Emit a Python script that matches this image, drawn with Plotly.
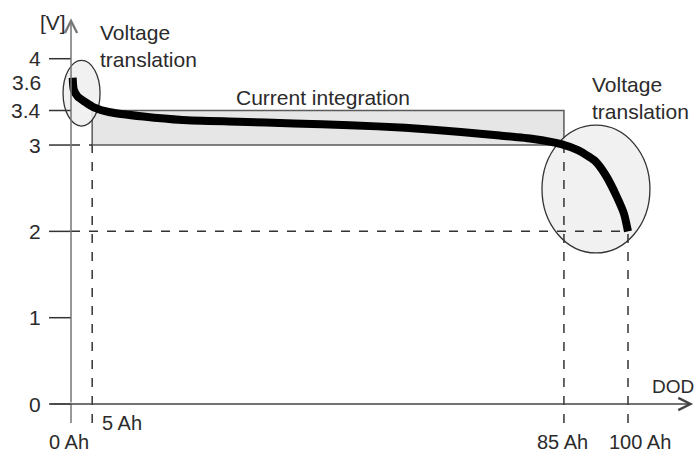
import plotly.graph_objects as go

# Discharge curve (DOD position along drawn axis, voltage in V)
dod = [0.3, 0.5, 1.2, 2.5, 4.0, 7.0, 13, 20, 30, 40, 50, 60, 70, 77, 83, 88, 91, 94, 96, 98, 99.3, 100]
volt = [3.78, 3.64, 3.56, 3.50, 3.44, 3.38, 3.33, 3.29, 3.27, 3.25, 3.23, 3.20, 3.15, 3.11, 3.07, 3.01,
        2.94, 2.82, 2.65, 2.40, 2.20, 2.00]

# Axis tick values / labels
y_ticks = [0, 1, 2, 3, 3.4, 4]
y_labels = ["4", "3.6", "3.4", "3", "2", "1", "0"]
y_label_pos = [4, 3.73, 3.4, 2.99, 2, 1, 0]
x_marks = [0, 3.8, 88.5, 100]          # drawn positions of 0, 5, 85, 100 Ah
x_labels = ["0 Ah", "5 Ah", "85 Ah", "100 Ah"]

# Regions
rect_x = [3.8, 88.5]
rect_y = [3.0, 3.4]
ell_left = dict(x0=-1.43, x1=5.21, y0=3.22, y1=3.98)
ell_right = dict(x0=84.56, x1=103.94, y0=1.75, y1=3.23)

FONT = "Liberation Sans, Arial, sans-serif"
TXT = "#2b2b2b"
FS = 21

fig = go.Figure()
fig.add_trace(go.Scatter(x=dod, y=volt, mode="lines",
                         line=dict(color="black", width=8, shape="spline", smoothing=0.6),
                         hoverinfo="skip", showlegend=False))

shapes = []
shapes.append(dict(type="rect", xref="x", yref="y", x0=rect_x[0], x1=rect_x[1], y0=rect_y[0], y1=rect_y[1],
                   fillcolor="#e6e6e6", line=dict(color="#5a5a5a", width=1.5), layer="below"))
for e in (ell_left, ell_right):
    shapes.append(dict(type="circle", xref="x", yref="y", **e,
                       fillcolor="rgba(238,238,238,0.85)", line=dict(color="#333333", width=1.3), layer="below"))
dash = dict(color="#333333", width=1.5, dash="dash")
shapes.append(dict(type="line", xref="x", yref="y", x0=x_marks[1], x1=x_marks[1], y0=-0.22, y1=rect_y[0], line=dash, layer="below"))
shapes.append(dict(type="line", xref="x", yref="y", x0=x_marks[2], x1=x_marks[2], y0=-0.22, y1=rect_y[0], line=dash, layer="below"))
shapes.append(dict(type="line", xref="x", yref="y", x0=x_marks[3], x1=x_marks[3], y0=-0.22, y1=2, line=dash, layer="below"))
shapes.append(dict(type="line", xref="x", yref="y", x0=0, x1=x_marks[1], y0=3, y1=3, line=dash, layer="below"))
shapes.append(dict(type="line", xref="x", yref="y", x0=0, x1=x_marks[3], y0=2, y1=2, line=dash, layer="below"))
for v in y_ticks:
    shapes.append(dict(type="line", xref="x", yref="y", x0=-3.95, x1=0, y0=v, y1=v,
                       line=dict(color="#333333", width=1.5), layer="below"))
shapes.append(dict(type="line", xref="x", yref="y", x0=0, x1=0, y0=-0.22, y1=0,
                   line=dict(color="#777777", width=1.5), layer="below"))

annotations = []
annotations.append(dict(x=0, y=4.47, ax=0, ay=0, xref="x", yref="y", axref="x", ayref="y", text="",
                        showarrow=True, arrowhead=5, arrowsize=1.6, arrowwidth=1.5, arrowcolor="#777777"))
annotations.append(dict(x=111.7, y=0, ax=-3.95, ay=0, xref="x", yref="y", axref="x", ayref="y", text="",
                        showarrow=True, arrowhead=5, arrowsize=1.6, arrowwidth=1.5, arrowcolor="#444444"))
for t, p in zip(y_labels, y_label_pos):
    annotations.append(dict(x=-5.0, y=p, text=t, xanchor="right", showarrow=False))
small = dict(family=FONT, size=20, color=TXT)
annotations.append(dict(x=-0.36, y=-0.595, text=x_labels[0], xanchor="center", yanchor="bottom", showarrow=False, font=small))
annotations.append(dict(x=5.2, y=-0.22, text=x_labels[1], xanchor="left", showarrow=False, font=small))
annotations.append(dict(x=88.2, y=-0.595, text=x_labels[2], xanchor="center", yanchor="bottom", showarrow=False, font=small))
annotations.append(dict(x=102.2, y=-0.595, text=x_labels[3], xanchor="center", yanchor="bottom", showarrow=False, font=small))
annotations.append(dict(x=112.2, y=0.20, text="DOD", xanchor="right", showarrow=False,
                        font=dict(family=FONT, size=19, color=TXT)))
annotations.append(dict(x=-0.5, y=4.42, text="[V]", xanchor="right", showarrow=False))
annotations.append(dict(x=4.85, y=4.15, text="Voltage<br>translation", xanchor="left", align="left", showarrow=False))
annotations.append(dict(x=93.2, y=3.54, text="Voltage<br>translation", xanchor="left", align="left", showarrow=False))
annotations.append(dict(x=45.3, y=3.556, text="Current integration", xanchor="center", showarrow=False))

for a in annotations:
    a.setdefault("xref", "x")
    a.setdefault("yref", "y")
    a.setdefault("yanchor", "middle")
    a.setdefault("font", dict(family=FONT, size=FS, color=TXT))

fig.update_layout(
    width=699, height=456, margin=dict(l=0, r=0, t=0, b=0),
    paper_bgcolor="white", plot_bgcolor="white",
    xaxis=dict(visible=False, range=[-12.75, 112.75], fixedrange=True),
    yaxis=dict(visible=False, range=[-0.602, 4.68], fixedrange=True),
    shapes=shapes, annotations=annotations, showlegend=False,
)
fig.write_html("out.html", config={"displayModeBar": False},
               post_script="document.body.style.margin='0';document.body.style.overflow='hidden';")
